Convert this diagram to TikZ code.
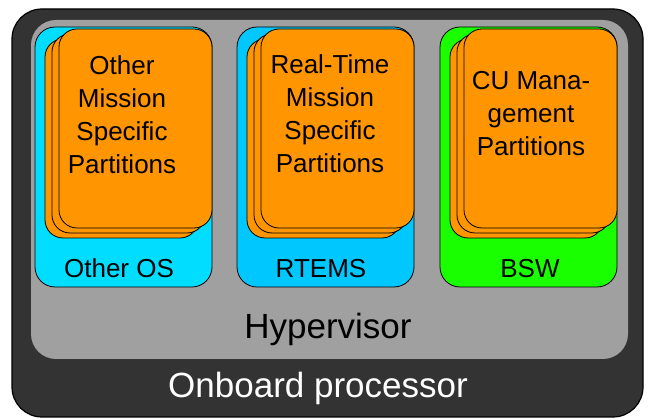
\documentclass[tikz,border=0pt]{standalone}
\usepackage{fontspec}
\setmainfont{Liberation Sans}
\usepackage{tikz}
\definecolor{procdark}{HTML}{333333}
\definecolor{hypgray}{HTML}{A0A0A0}
\definecolor{othercyan}{HTML}{00DDFF}
\definecolor{rtemsblue}{HTML}{00C8FF}
\definecolor{bswgreen}{HTML}{1AFF00}
\definecolor{partorange}{HTML}{FF9500}

\begin{document}
\begin{tikzpicture}[x=1pt,y=-1pt,
    osbox/.style={draw=black, line width=0.8pt, rounded corners=20pt},
    part/.style={draw=black, line width=0.8pt, fill=partorange, rounded corners=18pt},
    parttext/.style={anchor=north, inner sep=0pt, align=center, font=\fontsize{26}{33}\selectfont},
    oslabel/.style={anchor=base, inner sep=0pt, font=\fontsize{26}{30}\selectfont},
    biglabel/.style={anchor=base, inner sep=0pt, font=\fontsize{35}{40}\selectfont}]
  \useasboundingbox (0,0) rectangle (649,419);
  % processor and hypervisor layers
  \draw[fill=procdark, line width=1.2pt, rounded corners=30pt] (12,9) rectangle (643,417);
  \fill[hypgray, rounded corners=25pt] (31,20) rectangle (628,359);
  % operating systems
  \draw[osbox, fill=othercyan] (35,27) rectangle (212,287);
  \draw[osbox, fill=rtemsblue] (237,27) rectangle (414,287);
  \draw[osbox, fill=bswgreen] (440,27) rectangle (617,287);
  % partition stacks
  \foreach \L in {35,237,440}
    \foreach \d in {2,1,0}
      \draw[part] (\L+24-7*\d, 29+5*\d) rectangle (\L+177-7*\d, 228+5*\d);
  \node[parttext] (other) at (122,55) {Other\\Mission\\Specific\\Partitions};
  \node[parttext] (rt) at (330,54) {Real-Time\\Mission\\Specific\\Partitions};
  \node[parttext] (cu) at (531,71) {CU Mana-\\gement\\Partitions};
  % labels
  \node[oslabel] (otheros) at (119,278) {Other OS};
  \node[oslabel] (rtems) at (321,278) {RTEMS};
  \node[oslabel] (bsw) at (530,278) {BSW};
  \node[biglabel] (hyp) at (328,339) {Hypervisor};
  \node[biglabel, text=white] (proc) at (318,398) {Onboard processor};
\end{tikzpicture}
\end{document}
